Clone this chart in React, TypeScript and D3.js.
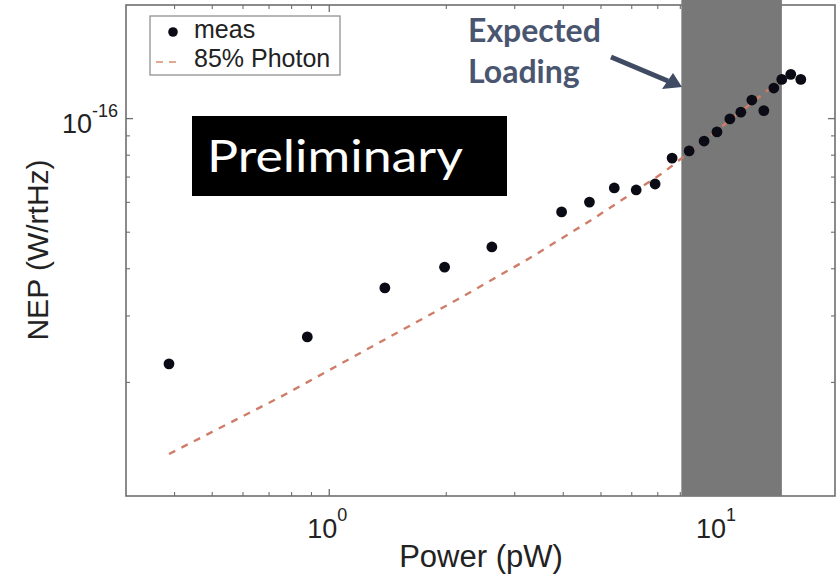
import React from "react";
import * as d3 from "d3";

const measPower = [0.387, 0.878, 1.39, 1.98, 2.62, 3.96, 4.67, 5.41, 6.16, 6.89, 7.62, 8.43, 9.21, 9.94, 10.73, 11.45, 12.22, 13.12, 13.92, 14.59, 15.39, 16.33];
const measNEP = [2.24e-17, 2.64e-17, 3.56e-17, 4.04e-17, 4.57e-17, 5.66e-17, 6.01e-17, 6.55e-17, 6.47e-17, 6.71e-17, 7.86e-17, 8.21e-17, 8.72e-17, 9.22e-17, 9.98e-17, 1.04e-16, 1.12e-16, 1.05e-16, 1.205e-16, 1.27e-16, 1.31e-16, 1.27e-16];

const photonPower = [0.387, 0.749, 2.13, 3.28, 4.81, 7.27, 13.75, 15.66];
const photonNEP = [1.292e-17, 1.83e-17, 3.31e-17, 4.27e-17, 5.45e-17, 7.22e-17, 1.212e-16, 1.345e-16];

const loadingBand = [8.05, 14.6];
const xMajorTicks = [1, 10];
const xMinorTicks = [0.4, 0.5, 0.6, 0.7, 0.8, 0.9, 2, 3, 4, 5, 6, 7, 8, 9];
const yMajorTicks = [1e-16];
const yMinorTicks = [2e-17, 3e-17, 4e-17, 5e-17, 6e-17, 7e-17, 8e-17, 9e-17];
const xTickLabels = [{ base: "10", exp: "0" }, { base: "10", exp: "1" }];
const yTickLabels = [{ base: "10", exp: "-16" }];

const W = 840;
const H = 578;
const L = 126, R = 835, T = 5, B = 496;

export default function App() {
  const x = d3.scaleLog().domain([0.3, 20]).range([L, R]);
  const y = d3.scaleLog().domain([1e-17, 2e-16]).range([B, T]);
  const axisColor = "#6e6e6e";
  const helv = "'Liberation Sans', Arial, Helvetica, sans-serif";
  const cal = "Lato, 'Open Sans', sans-serif";

  const photonLine = d3
    .line<number>()
    .x((_, i) => x(photonPower[i]))
    .y((d) => y(d))
    .curve(d3.curveLinear)(photonNEP);

  const major = 7, minor = 4;

  return (
    <svg width={W} height={H} style={{ position: "absolute", left: 0, top: 0, background: "#fff" }}>
      <rect x={0} y={0} width={W} height={H} fill="#fff" />
      {/* axes box */}
      <rect x={L} y={T} width={R - L} height={B - T} fill="none" stroke={axisColor} strokeWidth={1.6} />
      {/* ticks */}
      {xMajorTicks.map((t) => (
        <g key={"xM" + t}>
          <line x1={x(t)} x2={x(t)} y1={B} y2={B - major} stroke={axisColor} strokeWidth={1.3} />
          <line x1={x(t)} x2={x(t)} y1={T} y2={T + major} stroke={axisColor} strokeWidth={1.3} />
        </g>
      ))}
      {xMinorTicks.map((t) => (
        <g key={"xm" + t}>
          <line x1={x(t)} x2={x(t)} y1={B} y2={B - minor} stroke={axisColor} strokeWidth={1.1} />
          <line x1={x(t)} x2={x(t)} y1={T} y2={T + minor} stroke={axisColor} strokeWidth={1.1} />
        </g>
      ))}
      {yMajorTicks.map((t) => (
        <g key={"yM" + t}>
          <line x1={L} x2={L + major} y1={y(t)} y2={y(t)} stroke={axisColor} strokeWidth={1.3} />
          <line x1={R} x2={R - major} y1={y(t)} y2={y(t)} stroke={axisColor} strokeWidth={1.3} />
        </g>
      ))}
      {yMinorTicks.map((t) => (
        <g key={"ym" + t}>
          <line x1={L} x2={L + minor} y1={y(t)} y2={y(t)} stroke={axisColor} strokeWidth={1.1} />
          <line x1={R} x2={R - minor} y1={y(t)} y2={y(t)} stroke={axisColor} strokeWidth={1.1} />
        </g>
      ))}

      {/* expected loading band */}
      <rect
        x={x(loadingBand[0])}
        y={0}
        width={x(loadingBand[1]) - x(loadingBand[0])}
        height={B}
        fill="#787878"
      />

      {/* photon line */}
      <path d={photonLine || ""} fill="none" stroke="#cf7d68" strokeWidth={2.4} strokeDasharray="7,7" />

      {/* measured points */}
      {measPower.map((p, i) => (
        <circle key={"m" + i} cx={x(p)} cy={y(measNEP[i])} r={5.4} fill="#0b0b16" />
      ))}

      {/* tick labels */}
      {xMajorTicks.map((t, i) => (
        <text key={"xl" + t} x={x(t) - 2} y={538} textAnchor="middle" fontFamily={helv} fontSize={27} fill="#222">
          {xTickLabels[i].base}
          <tspan fontSize={18} dy={-17}>{xTickLabels[i].exp}</tspan>
        </text>
      ))}
      {yMajorTicks.map((t, i) => (
        <text key={"yl" + t} x={118} y={y(t) + 14} textAnchor="end" fontFamily={helv} fontSize={27} fill="#222">
          {yTickLabels[i].base}
          <tspan fontSize={18} dy={-16}>{yTickLabels[i].exp}</tspan>
        </text>
      ))}

      {/* axis labels */}
      <text x={481} y={567} textAnchor="middle" fontFamily={helv} fontSize={31} fill="#222">
        Power (pW)
      </text>
      <text
        transform={`translate(48,250) rotate(-90)`}
        textAnchor="middle"
        fontFamily={helv}
        fontSize={30}
        fill="#222"
      >
        NEP (W/rtHz)
      </text>

      {/* legend */}
      <rect x={150} y={16} width={190} height={59} fill="#fff" stroke="#888" strokeWidth={1.2} />
      <circle cx={173} cy={32} r={4.8} fill="#0b0b16" />
      <text x={194} y={38} fontFamily={helv} fontSize={25} fill="#222">meas</text>
      <line x1={156} x2={182} y1={62} y2={62} stroke="#e3a890" strokeWidth={2} strokeDasharray="7,6" />
      <text x={194} y={67} fontFamily={helv} fontSize={25} fill="#222">85% Photon</text>

      {/* Preliminary box */}
      <rect x={192} y={116} width={315} height={80} fill="#000" />
      <text x={207} y={172} fontFamily={cal} fontSize={44} fill="#fff" textLength={256} lengthAdjust="spacingAndGlyphs">Preliminary</text>

      {/* Expected loading annotation */}
      <text x={468} y={42} fontFamily={cal} fontWeight="bold" fontSize={32} fill="#4a5670">Expected</text>
      <text x={468} y={83} fontFamily={cal} fontWeight="bold" fontSize={32} fill="#4a5670">Loading</text>
      <line x1={611} y1={57} x2={668} y2={81} stroke="#3f4a63" strokeWidth={5} />
      <polygon points="682,87 662,89 673,73" fill="#3f4a63" />
    </svg>
  );
}
